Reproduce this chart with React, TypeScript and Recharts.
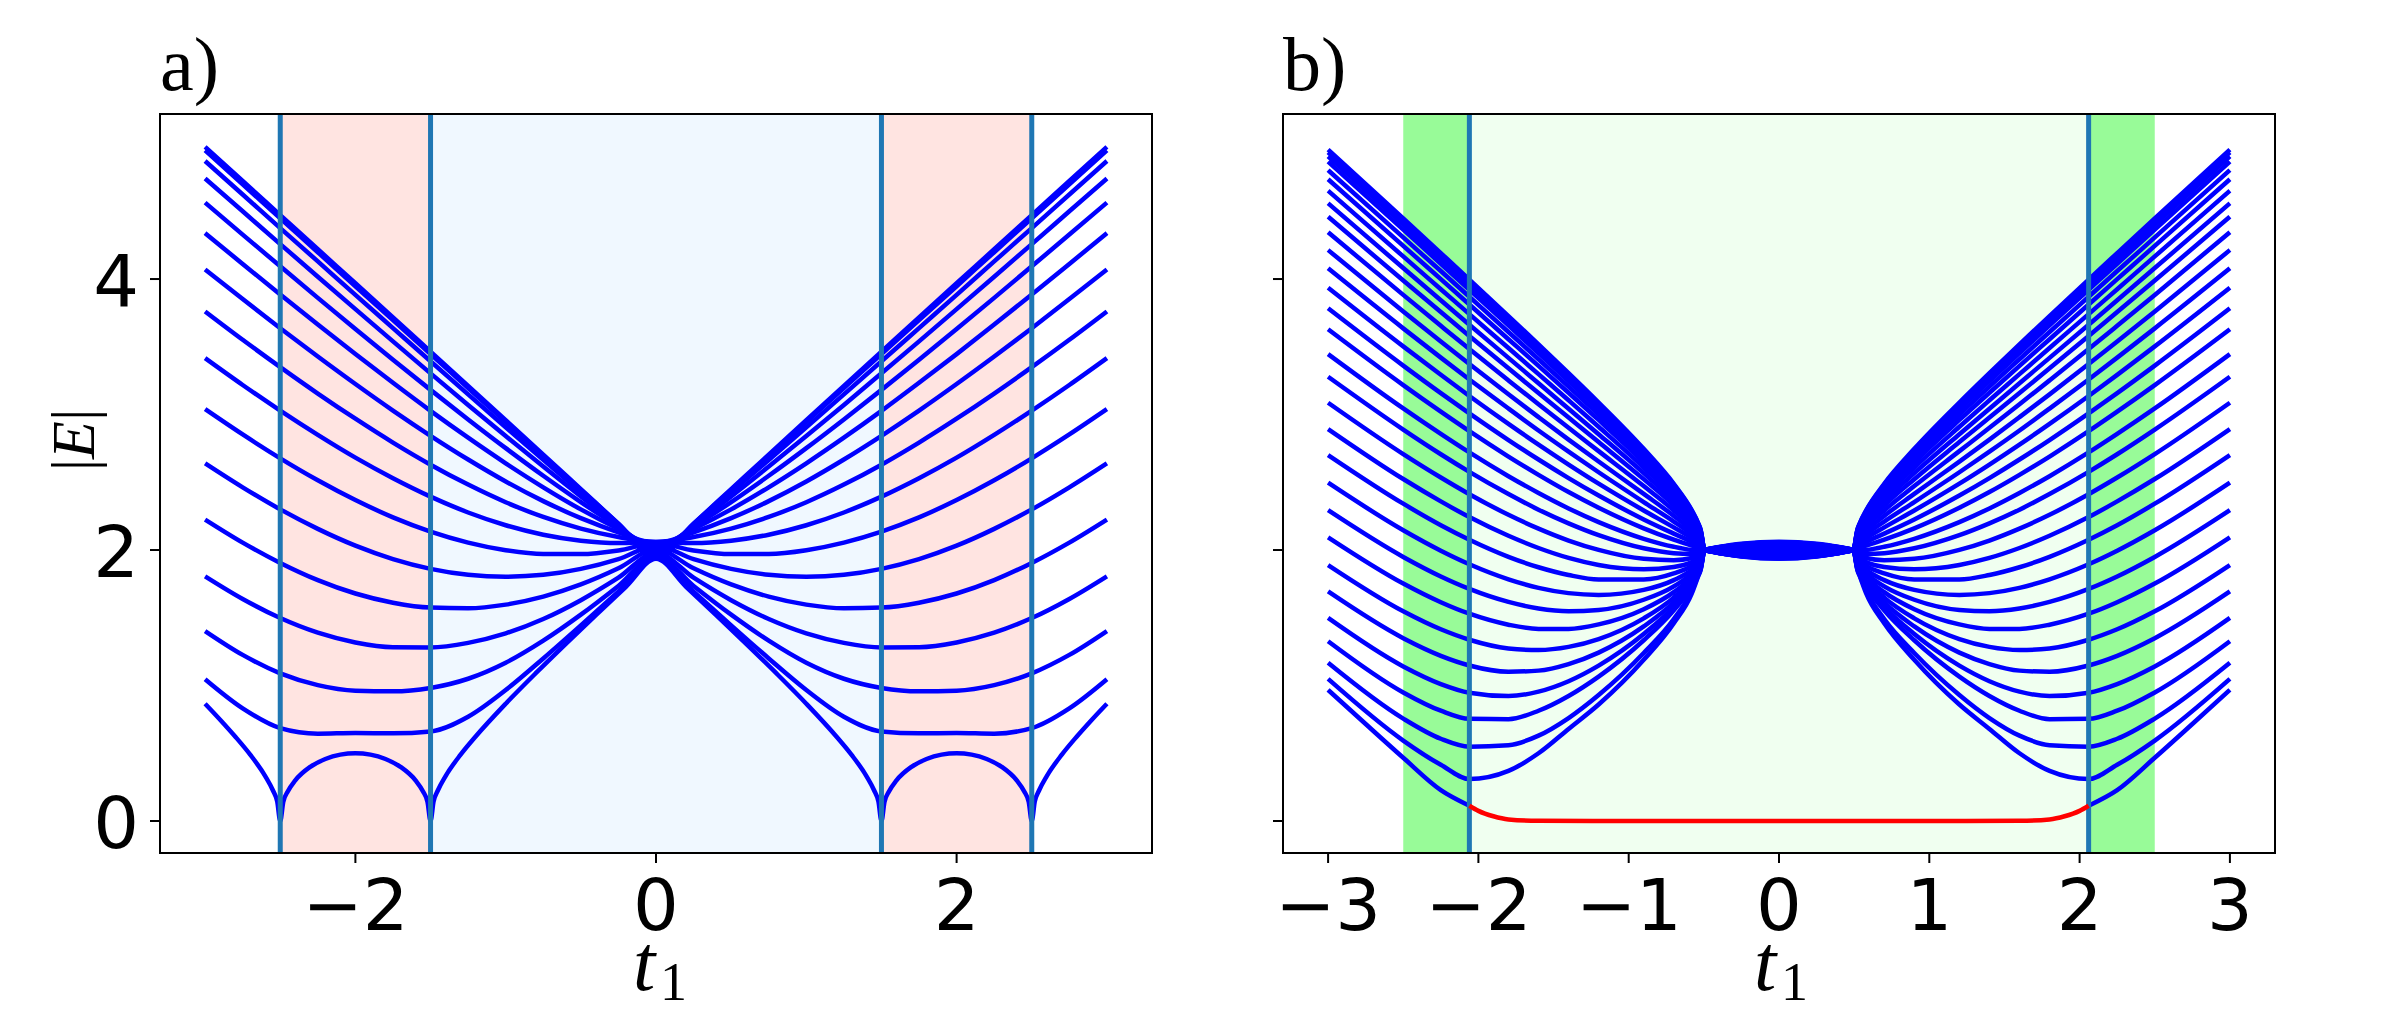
import { LineChart, Line, XAxis, YAxis, ReferenceArea, ReferenceLine } from "recharts"

// both panels are mirror symmetric in t1, so only t1 <= 0 is listed; the right half is the mirror image

// panel a: |E| per band, sampled at these t1 values
const xA = [-3, -2.75, -2.5, -2.25, -2, -1.75, -1.5, -1.25, -1, -0.75, -0.5, -0.25, 0]
const bandsA = [
  [1.047, 0.832, 0.686, 0.645, 0.65, 0.647, 0.661, 0.77, 0.967, 1.2, 1.444, 1.693, 1.943],
  [1.402, 1.226, 1.09, 1.003, 0.962, 0.957, 0.982, 1.05, 1.168, 1.331, 1.523, 1.735, 1.959],
  [1.806, 1.639, 1.498, 1.39, 1.318, 1.283, 1.281, 1.315, 1.385, 1.491, 1.63, 1.796, 1.982],
  [2.225, 2.055, 1.905, 1.778, 1.679, 1.611, 1.575, 1.57, 1.597, 1.656, 1.746, 1.865, 2.008],
  [2.64, 2.463, 2.3, 2.156, 2.032, 1.933, 1.861, 1.817, 1.803, 1.817, 1.861, 1.933, 2.032],
  [3.04, 2.853, 2.677, 2.515, 2.369, 2.241, 2.136, 2.055, 1.999, 1.971, 1.97, 1.997, 2.051],
  [3.416, 3.218, 3.029, 2.85, 2.682, 2.53, 2.394, 2.277, 2.183, 2.113, 2.069, 2.051, 2.06],
  [3.761, 3.552, 3.35, 3.155, 2.969, 2.793, 2.63, 2.483, 2.353, 2.244, 2.158, 2.096, 2.06],
  [4.07, 3.852, 3.637, 3.428, 3.225, 3.029, 2.843, 2.668, 2.506, 2.361, 2.235, 2.131, 2.051],
  [4.339, 4.111, 3.886, 3.664, 3.446, 3.234, 3.027, 2.829, 2.64, 2.463, 2.3, 2.156, 2.032],
  [4.564, 4.328, 4.094, 3.861, 3.631, 3.405, 3.182, 2.964, 2.752, 2.548, 2.354, 2.173, 2.008],
  [4.742, 4.5, 4.258, 4.017, 3.778, 3.54, 3.304, 3.071, 2.841, 2.616, 2.396, 2.184, 1.982],
  [4.871, 4.624, 4.376, 4.13, 3.883, 3.638, 3.393, 3.149, 2.906, 2.665, 2.426, 2.19, 1.959],
  [4.949, 4.699, 4.448, 4.198, 3.947, 3.697, 3.446, 3.196, 2.945, 2.694, 2.444, 2.193, 1.943],
  [4.975, 4.724, 4.472, 4.22, 3.969, 3.717, 3.464, 3.211, 2.958, 2.704, 2.449, 2.194, 1.936],
]

// lowest band of panel a, read more densely around the zeros at t1 = -2.5 and -1.5
const xA0 = [-3, -2.9, -2.8, -2.7, -2.6, -2.55, -2.52, -2.5, -2.48, -2.45, -2.4, -2.3, -2.2, -2.1, -2,
  -1.9, -1.8, -1.7, -1.6, -1.55, -1.52, -1.5, -1.48, -1.45, -1.4, -1.3, -1.2, -1, -0.8, -0.6, -0.4, -0.2, 0]
const bandA0 = [0.866, 0.748, 0.624, 0.49, 0.332, 0.229, 0.143, 0, 0.14, 0.218, 0.3, 0.4, 0.458, 0.49, 0.5,
  0.49, 0.458, 0.4, 0.3, 0.218, 0.14, 0, 0.143, 0.229, 0.332, 0.49, 0.624, 0.866, 1.091, 1.308, 1.52, 1.729, 1.936]

// panel b: |E| per band, open chain; the fan ends at t1 = -0.5, the thin lens runs from -0.5 to 0
const xB = [-3, -2.5, -2.25, -2.06, -1.8, -1.6, -1.4, -1.2, -0.9, -0.7, -0.58, -0.54, -0.52, -0.5, -0.45, -0.4, -0.25, 0]
const bandsB = [
  [4.955, 4.447, 4.191, 3.996, 3.727, 3.518, 3.306, 3.089, 2.747, 2.489, 2.293, 2.204, 2.143, 2, 2.012, 2.022, 2.046, 2.061],
  [4.935, 4.428, 4.174, 3.979, 3.711, 3.503, 3.292, 3.077, 2.738, 2.482, 2.289, 2.201, 2.14, 2, 2.011, 2.02, 2.042, 2.057],
  [4.905, 4.401, 4.147, 3.954, 3.688, 3.482, 3.273, 3.06, 2.724, 2.472, 2.283, 2.196, 2.137, 2, 2.01, 2.018, 2.038, 2.051],
  [4.866, 4.365, 4.113, 3.921, 3.658, 3.453, 3.247, 3.037, 2.706, 2.46, 2.274, 2.19, 2.133, 2, 2.008, 2.015, 2.032, 2.044],
  [4.804, 4.307, 4.059, 3.869, 3.609, 3.408, 3.206, 3.0, 2.678, 2.439, 2.261, 2.18, 2.126, 2, 2.006, 2.011, 2.024, 2.032],
  [4.736, 4.245, 3.999, 3.812, 3.556, 3.359, 3.161, 2.96, 2.647, 2.417, 2.247, 2.17, 2.118, 2, 2.004, 2.007, 2.015, 2.021],
  [4.652, 4.167, 3.925, 3.741, 3.491, 3.298, 3.105, 2.91, 2.609, 2.39, 2.229, 2.158, 2.109, 2, 2.002, 2.002, 2.006, 2.008],
  [4.559, 4.081, 3.843, 3.663, 3.418, 3.231, 3.043, 2.855, 2.567, 2.36, 2.21, 2.144, 2.1, 2, 1.999, 1.998, 1.996, 1.995],
  [4.46, 3.989, 3.756, 3.58, 3.341, 3.159, 2.978, 2.797, 2.523, 2.329, 2.19, 2.13, 2.089, 2, 1.997, 1.993, 1.987, 1.983],
  [4.345, 3.883, 3.655, 3.483, 3.252, 3.076, 2.902, 2.73, 2.472, 2.292, 2.167, 2.113, 2.078, 2, 1.994, 1.989, 1.978, 1.971],
  [4.214, 3.761, 3.539, 3.373, 3.149, 2.981, 2.815, 2.653, 2.414, 2.252, 2.141, 2.095, 2.065, 2, 1.992, 1.985, 1.97, 1.959],
  [4.079, 3.636, 3.42, 3.259, 3.044, 2.882, 2.726, 2.574, 2.354, 2.21, 2.115, 2.076, 2.051, 2, 1.991, 1.982, 1.963, 1.951],
  [3.936, 3.503, 3.293, 3.137, 2.931, 2.778, 2.631, 2.49, 2.292, 2.167, 2.088, 2.057, 2.038, 2, 1.989, 1.979, 1.958, 1.944],
  [3.784, 3.361, 3.158, 3.009, 2.812, 2.668, 2.531, 2.402, 2.226, 2.121, 2.06, 2.037, 2.024, 2, 1.988, 1.978, 1.955, 1.939],
  [3.629, 3.217, 3.021, 2.877, 2.69, 2.555, 2.428, 2.312, 2.16, 2.076, 2.032, 2.018, 2.01, 2, 1.988, 1.977, 1.953, 1.937],
  [3.446, 3.045, 2.857, 2.72, 2.545, 2.421, 2.307, 2.206, 2.083, 2.024, 2.0, 1.996, 1.995, 2, 1.988, 1.977, 1.954, 1.938],
  [3.279, 2.889, 2.707, 2.577, 2.413, 2.298, 2.197, 2.11, 2.013, 1.977, 1.972, 1.976, 1.981, 2, 1.989, 1.978, 1.956, 1.941],
  [3.087, 2.708, 2.535, 2.412, 2.26, 2.158, 2.07, 2.001, 1.935, 1.925, 1.941, 1.955, 1.966, 2, 1.99, 1.98, 1.96, 1.946],
  [2.893, 2.524, 2.359, 2.243, 2.105, 2.015, 1.942, 1.89, 1.858, 1.875, 1.911, 1.934, 1.952, 2, 1.991, 1.983, 1.966, 1.954],
  [2.701, 2.342, 2.183, 2.076, 1.95, 1.873, 1.816, 1.783, 1.783, 1.827, 1.883, 1.915, 1.938, 2, 1.993, 1.987, 1.973, 1.964],
  [2.497, 2.146, 1.995, 1.895, 1.784, 1.721, 1.682, 1.669, 1.706, 1.778, 1.854, 1.896, 1.925, 2, 1.995, 1.991, 1.981, 1.975],
  [2.294, 1.949, 1.805, 1.713, 1.617, 1.569, 1.549, 1.558, 1.633, 1.732, 1.828, 1.878, 1.913, 2, 1.998, 1.995, 1.99, 1.987],
  [2.094, 1.753, 1.615, 1.53, 1.449, 1.418, 1.418, 1.451, 1.563, 1.689, 1.804, 1.862, 1.902, 2, 2.0, 2.0, 1.999, 2.0],
  [1.889, 1.548, 1.415, 1.338, 1.274, 1.262, 1.285, 1.343, 1.496, 1.649, 1.781, 1.846, 1.891, 2, 2.002, 2.004, 2.009, 2.012],
  [1.694, 1.349, 1.219, 1.148, 1.102, 1.11, 1.158, 1.243, 1.436, 1.613, 1.762, 1.833, 1.882, 2, 2.005, 2.008, 2.018, 2.024],
  [1.499, 1.141, 1.011, 0.947, 0.922, 0.955, 1.032, 1.147, 1.38, 1.581, 1.744, 1.822, 1.874, 2, 2.007, 2.012, 2.026, 2.036],
  [1.327, 0.949, 0.814, 0.754, 0.752, 0.814, 0.923, 1.066, 1.334, 1.556, 1.73, 1.812, 1.868, 2, 2.009, 2.016, 2.033, 2.045],
  [1.168, 0.756, 0.607, 0.549, 0.56, 0.63, 0.76, 0.93, 1.24, 1.49, 1.7, 1.805, 1.863, 2, 2.01, 2.019, 2.039, 2.053],
  [1.049, 0.594, 0.415, 0.31, 0.37, 0.5, 0.68, 0.86, 1.19, 1.46, 1.68, 1.8, 1.86, 2, 2.011, 2.021, 2.043, 2.058],
]

// lowest band of panel b outside the vertical lines, then the edge state (red) between them
const xBEdge = [-3, -2.75, -2.5, -2.25, -2.06]
const bandBEdge = [0.968, 0.716, 0.467, 0.228, 0.113]
const xRed = [-2.06, -2, -1.9, -1.8, -1.6, -1, 0]
const edgeRed = [0.113, 0.075, 0.035, 0.012, 0.002, 0, 0]

const ticksA = [-2, 0, 2]
const ticksB = [-3, -2, -1, 0, 1, 2, 3]
const ticksY = [0, 2, 4]

// shaded t1 intervals [from, to, colour]
const shadeA: [number, number, string][] = [
  [-2.5, -1.5, "#ffe4e1"],
  [-1.5, 1.5, "#f0f8ff"],
  [1.5, 2.5, "#ffe4e1"],
]
const shadeB: [number, number, string][] = [
  [-2.5, -2.06, "#98fb98"],
  [-2.06, 2.06, "#f0fff0"],
  [2.06, 2.5, "#98fb98"],
]
const vlinesA = [-2.5, -1.5, 1.5, 2.5]
const vlinesB = [-2.06, 2.06]

type Pt = { x: number; y: number }

const side = (xs: number[], ys: number[]): Pt[] => xs.map((x, i) => ({ x, y: ys[i] }))
const flip = (pts: Pt[]): Pt[] => pts.map((p) => ({ x: -p.x, y: p.y })).reverse()
const mirror = (xs: number[], ys: number[]): Pt[] => {
  const left = side(xs, ys)
  return [...left, ...flip(left.filter((p) => p.x < 0))]
}

const xDomain = [-3.3, 3.3]
const yDomain = [-0.236, 5.218]
const fmt = (v: number) => (v < 0 ? "\u2212" + Math.abs(v) : String(v))

function Panel({
  left,
  width,
  yAxisWidth,
  rightMargin,
  xTicks,
  shades,
  vlines,
  blue,
  red,
  yLabels,
}: {
  left: number
  width: number
  yAxisWidth: number
  rightMargin: number
  xTicks: number[]
  shades: [number, number, string][]
  vlines: number[]
  blue: Pt[][]
  red: Pt[][]
  yLabels: boolean
}) {
  return (
    <div style={{ position: "absolute", left, top: 0 }}>
      <LineChart
        width={width}
        height={1015}
        margin={{ top: 114, right: rightMargin, bottom: 0, left: 0 }}
      >
        <XAxis
          dataKey="x"
          type="number"
          domain={xDomain}
          allowDataOverflow
          ticks={xTicks}
          interval={0}
          height={162}
          axisLine={false}
          tickSize={10}
          tickLine={{ stroke: "#000", strokeWidth: 2 }}
          tick={(p: any) => (
            <text
              x={p.x}
              y={930}
              textAnchor="middle"
              fontFamily="DejaVu Sans"
              fontSize={72}
              fill="#000"
            >
              {fmt(p.payload.value)}
            </text>
          )}
        />
        <YAxis
          dataKey="y"
          type="number"
          domain={yDomain}
          allowDataOverflow
          ticks={ticksY}
          interval={0}
          width={yAxisWidth}
          axisLine={false}
          tickSize={10}
          tickLine={{ stroke: "#000", strokeWidth: 2 }}
          tick={(p: any) =>
            yLabels ? (
              <text
                x={yAxisWidth - 21}
                y={p.y + 27}
                textAnchor="end"
                fontFamily="DejaVu Sans"
                fontSize={72}
                fill="#000"
              >
                {fmt(p.payload.value)}
              </text>
            ) : (
              <g />
            )
          }
        />
        {shades.map(([a, b, c], i) => (
          <ReferenceArea
            key={"s" + i}
            x1={a}
            x2={b}
            y1={yDomain[0]}
            y2={yDomain[1]}
            fill={c}
            fillOpacity={1}
            stroke="none"
          />
        ))}
        {blue.map((d, i) => (
          <Line
            key={"b" + i}
            data={d}
            dataKey="y"
            type="monotone"
            stroke="#0000ff"
            strokeWidth={4.5}
            dot={false}
            activeDot={false}
            isAnimationActive={false}
          />
        ))}
        {vlines.map((v) => (
          <ReferenceLine key={"v" + v} x={v} stroke="#1f77b4" strokeWidth={5} />
        ))}
        {red.map((d, i) => (
          <Line
            key={"r" + i}
            data={d}
            dataKey="y"
            type="monotone"
            stroke="#ff0000"
            strokeWidth={4.5}
            dot={false}
            activeDot={false}
            isAnimationActive={false}
          />
        ))}
      </LineChart>
      <div
        style={{
          position: "absolute",
          left: yAxisWidth - 1,
          top: 113,
          width: 994,
          height: 741,
          border: "2px solid #000",
          boxSizing: "border-box",
          pointerEvents: "none",
        }}
      />
    </div>
  )
}

function TLabel({ x }: { x: number }) {
  return (
    <g fontFamily="Liberation Serif" fill="#000">
      <text x={x} y={990} fontSize={80} fontStyle="italic">
        t
      </text>
      <text x={x + 27} y={1000} fontSize={54}>
        1
      </text>
    </g>
  )
}

export default function App() {
  const blueA = [mirror(xA0, bandA0), ...bandsA.map((ys) => mirror(xA, ys))]

  // panel b: left fan, right fan (mirror) and the lens between t1 = -0.5 and 0.5
  const blueB: Pt[][] = []
  bandsB.forEach((ys) => {
    const pts = side(xB, ys)
    const fan = pts.filter((p) => p.x <= -0.5)
    const lens = pts.filter((p) => p.x >= -0.5)
    blueB.push(fan, flip(fan), [...lens, ...flip(lens.filter((p) => p.x < 0))])
  })
  const edgeLeft = side(xBEdge, bandBEdge)
  blueB.push(edgeLeft, flip(edgeLeft))
  const redB = [mirror(xRed, edgeRed)]

  const serif = "Liberation Serif"
  return (
    <div
      style={{
        position: "absolute",
        left: 0,
        top: 0,
        width: 2403,
        height: 1015,
        background: "#fff",
        overflow: "hidden",
      }}
    >
      <Panel
        left={0}
        width={1200}
        yAxisWidth={160}
        rightMargin={48}
        xTicks={ticksA}
        shades={shadeA}
        vlines={vlinesA}
        blue={blueA}
        red={[]}
        yLabels
      />
      <Panel
        left={1200}
        width={1203}
        yAxisWidth={83}
        rightMargin={128}
        xTicks={ticksB}
        shades={shadeB}
        vlines={vlinesB}
        blue={blueB}
        red={redB}
        yLabels={false}
      />
      <svg
        width={2403}
        height={1015}
        style={{ position: "absolute", left: 0, top: 0, pointerEvents: "none" }}
      >
        <text x={160} y={90} fontFamily={serif} fontSize={76} fill="#000">
          a)
        </text>
        <text x={1283} y={90} fontFamily={serif} fontSize={76} fill="#000">
          b)
        </text>
        <text
          transform="translate(94,440) rotate(-90)"
          textAnchor="middle"
          fontFamily={serif}
          fontSize={62}
          fill="#000"
        >
          |<tspan fontStyle="italic">E</tspan>|
        </text>
        <TLabel x={633} />
        <TLabel x={1754} />
      </svg>
    </div>
  )
}
